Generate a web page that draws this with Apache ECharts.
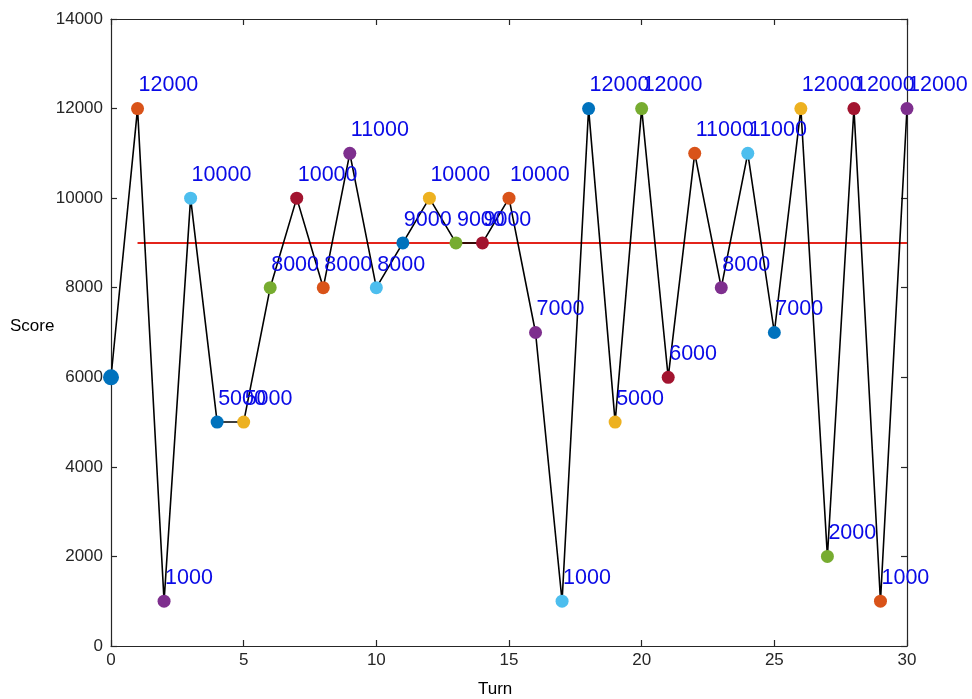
<!DOCTYPE html>
<html><head><meta charset="utf-8">
<script src="https://cdn.jsdelivr.net/npm/echarts@6/dist/echarts.min.js"></script>
<style>html,body{margin:0;padding:0;background:#fff}#c{width:972px;height:699px}</style>
</head><body><div id="c"></div>
<script>
const turns = [0,1,2,3,4,5,6,7,8,9,10,11,12,13,14,15,16,17,18,19,20,21,22,23,24,25,26,27,28,29,30];
const scores = [6000,12000,1000,10000,5000,5000,8000,10000,8000,11000,8000,9000,10000,9000,9000,10000,7000,1000,12000,5000,12000,6000,11000,8000,11000,7000,12000,2000,12000,1000,12000];
const pointColors = ['#0072BD','#D95319','#7E2F8E','#4DBEEE','#0072BD','#EDB120','#77AC30','#A2142F','#D95319','#7E2F8E','#4DBEEE','#0072BD','#EDB120','#77AC30','#A2142F','#D95319','#7E2F8E','#4DBEEE','#0072BD','#EDB120','#77AC30','#A2142F','#D95319','#7E2F8E','#4DBEEE','#0072BD','#EDB120','#77AC30','#A2142F','#D95319','#7E2F8E'];
const targetScore = 9000;
const targetRange = [1, 30];
const xTicks = [0,5,10,15,20,25,30];
const yTicks = [0,2000,4000,6000,8000,10000,12000,14000];

const font = 'Liberation Sans, Arial, Helvetica, sans-serif';
const axisColor = '#262626';

const lineData = turns.map((t,i)=>({
  value:[t, scores[i]],
  symbolSize: i===0 ? 16 : 13,
  itemStyle:{color: pointColors[i]},
  label:{show: i!==0}
}));

const tickStyle = {inside:true,length:6,lineStyle:{color:axisColor,width:1.2}};
const lineStyleAx = {show:true,onZero:false,lineStyle:{color:axisColor,width:1.2}};

const chart = echarts.init(document.getElementById('c'));
chart.setOption({
  animation:false,
  grid:{left:111,right:65,top:19,bottom:53},
  xAxis:[{
    type:'value',min:0,max:30,interval:5,
    axisLine:lineStyleAx,
    axisTick:Object.assign({show:true},tickStyle),
    axisLabel:{color:axisColor,fontSize:17,fontFamily:font,margin:6,formatter:v=>String(v)},
    splitLine:{show:false}
  },{
    type:'value',min:0,max:30,interval:5,position:'top',
    axisLine:lineStyleAx,
    axisTick:Object.assign({show:true},tickStyle),
    axisLabel:{show:false},splitLine:{show:false}
  }],
  yAxis:[{
    type:'value',min:0,max:14000,interval:2000,
    axisLine:lineStyleAx,
    axisTick:Object.assign({show:true},tickStyle),
    axisLabel:{color:axisColor,fontSize:17,fontFamily:font,margin:8,formatter:v=>String(v)},
    splitLine:{show:false}
  },{
    type:'value',min:0,max:14000,interval:2000,position:'right',
    axisLine:lineStyleAx,
    axisTick:Object.assign({show:true},tickStyle),
    axisLabel:{show:false},splitLine:{show:false}
  }],
  graphic:[
    {type:'text',left:10,top:318,style:{text:'Score',fontSize:17,fontFamily:font,fill:'#000'}},
    {type:'text',left:478,top:681,style:{text:'Turn',fontSize:17,fontFamily:font,fill:'#000'}}
  ],
  series:[{
    type:'line',
    data:targetRange.map(t=>[t,targetScore]),
    symbol:'none',
    lineStyle:{color:'#E3241B',width:2},
    z:2,silent:true
  },{
    type:'line',
    data:lineData,
    symbol:'circle',
    showAllSymbol:true,
    lineStyle:{color:'#000',width:1.6},
    label:{
      show:true,position:'inside',align:'left',verticalAlign:'middle',
      offset:[1,-23],color:'#0A0AE6',fontSize:21.5,fontFamily:font,
      formatter:p=>String(p.value[1])
    },
    z:3,silent:true
  }]
});
</script></body></html>
